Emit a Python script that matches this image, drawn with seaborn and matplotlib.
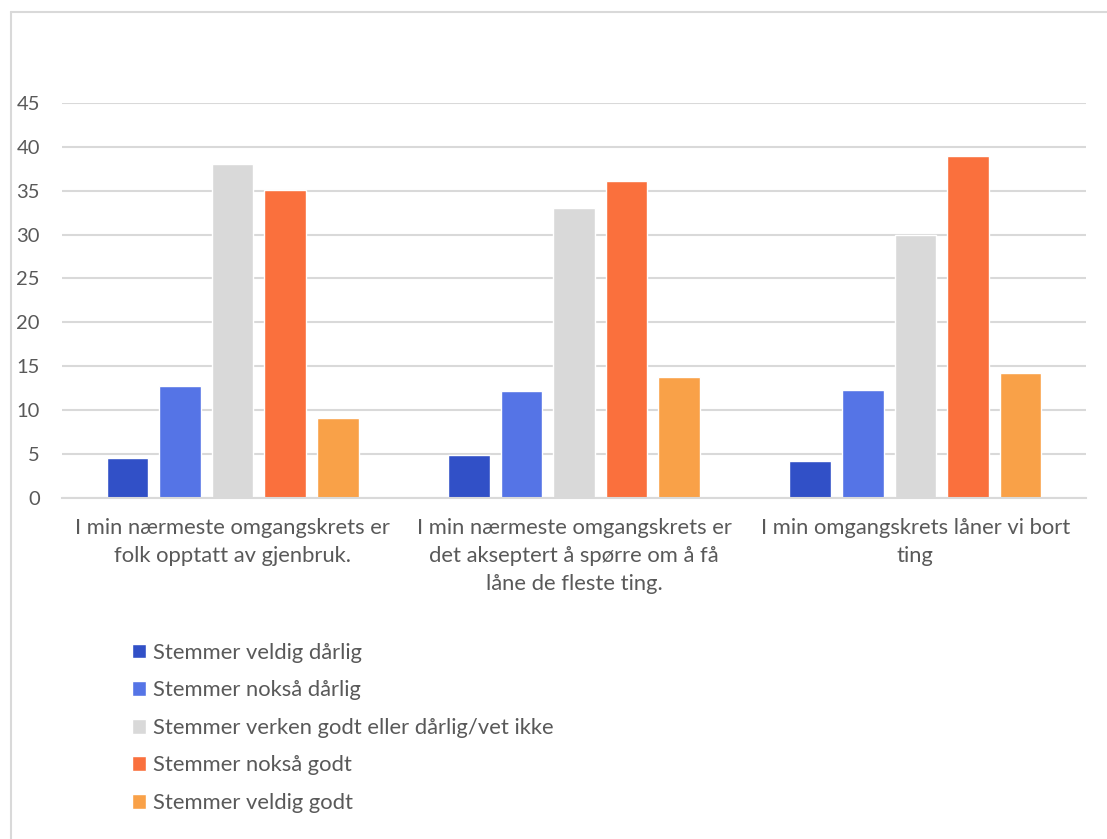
import matplotlib
matplotlib.use("Agg")
import matplotlib.pyplot as plt
from matplotlib.lines import Line2D
import pandas as pd
import seaborn as sns

# Survey statements (x categories)
kategorier = [
    "I min nærmeste omgangskrets er\nfolk opptatt av gjenbruk.",
    "I min nærmeste omgangskrets er\ndet akseptert å spørre om å få\nlåne de fleste ting.",
    "I min omgangskrets låner vi bort\nting",
]

# Response options (hue)
svar = [
    "Stemmer veldig dårlig",
    "Stemmer nokså dårlig",
    "Stemmer verken godt eller dårlig/vet ikke",
    "Stemmer nokså godt",
    "Stemmer veldig godt",
]

# Percentages per response option, one value per statement
veldig_darlig = [4.5, 4.8, 4.2]
noksa_darlig = [12.7, 12.1, 12.3]
verken = [38.0, 33.0, 30.0]
noksa_godt = [35.1, 36.1, 39.0]
veldig_godt = [9.1, 13.7, 14.2]

farger = ["#3150C7", "#5574E6", "#D9D9D9", "#FA703D", "#F9A148"]

serier = [veldig_darlig, noksa_darlig, verken, noksa_godt, veldig_godt]
rader = []
for navn, verdier in zip(svar, serier):
    for kat, v in zip(kategorier, verdier):
        rader.append({"kategori": kat, "svar": navn, "prosent": v})
df = pd.DataFrame(rader)

sns.set_theme(style="white")
plt.rcParams["font.family"] = ["Lato", "DejaVu Sans"]
tekstfarge = "#595959"

W, H = 1107, 839
fig = plt.figure(figsize=(W / 100, H / 100), dpi=100)
ax = fig.add_axes([62 / W, 1 - 497.5 / H, (1086 - 62) / W, (497.5 - 103) / H])

sns.barplot(
    data=df, x="kategori", y="prosent", hue="svar",
    order=kategorier, hue_order=svar, palette=farger,
    saturation=1, width=0.77, gap=0.21, ax=ax, legend=True,
)

ax.set_ylim(0, 45)
ax.set_yticks(range(0, 46, 5))
ax.yaxis.grid(True, color="#D9D9D9", linewidth=1.5)
ax.set_axisbelow(True)
for side in ["left", "right", "top"]:
    ax.spines[side].set_visible(False)
ax.spines["bottom"].set_color("#D9D9D9")
ax.spines["bottom"].set_linewidth(1.5)
ax.set_xlabel("")
ax.set_ylabel("")
ax.tick_params(axis="both", length=0, colors=tekstfarge)
ax.tick_params(axis="y", pad=16, labelsize=14.5)
ax.tick_params(axis="x", pad=15, labelsize=15.8)
for lbl in ax.get_xticklabels():
    lbl.set_linespacing(1.5)

handles, labels = ax.get_legend_handles_labels()
ax.get_legend().remove()
leg = fig.legend(
    handles, labels, loc="upper left",
    bbox_to_anchor=(123 / W, 1 - 634 / H),
    frameon=False, fontsize=15.8, labelcolor=tekstfarge,
    handlelength=0.65, handleheight=0.65, handletextpad=0.3,
    labelspacing=0.8, borderaxespad=0,
)

# Chart-area border (left and top edges are inside the canvas)
kant = "#D9D9D9"
fig.add_artist(Line2D([11 / W, 11 / W], [0, 1 - 12 / H], color=kant, lw=1.5,
                      transform=fig.transFigure))
fig.add_artist(Line2D([11 / W, 1], [1 - 12 / H, 1 - 12 / H], color=kant, lw=1.5,
                      transform=fig.transFigure))

fig.savefig("out.png", dpi=100, facecolor="white")
